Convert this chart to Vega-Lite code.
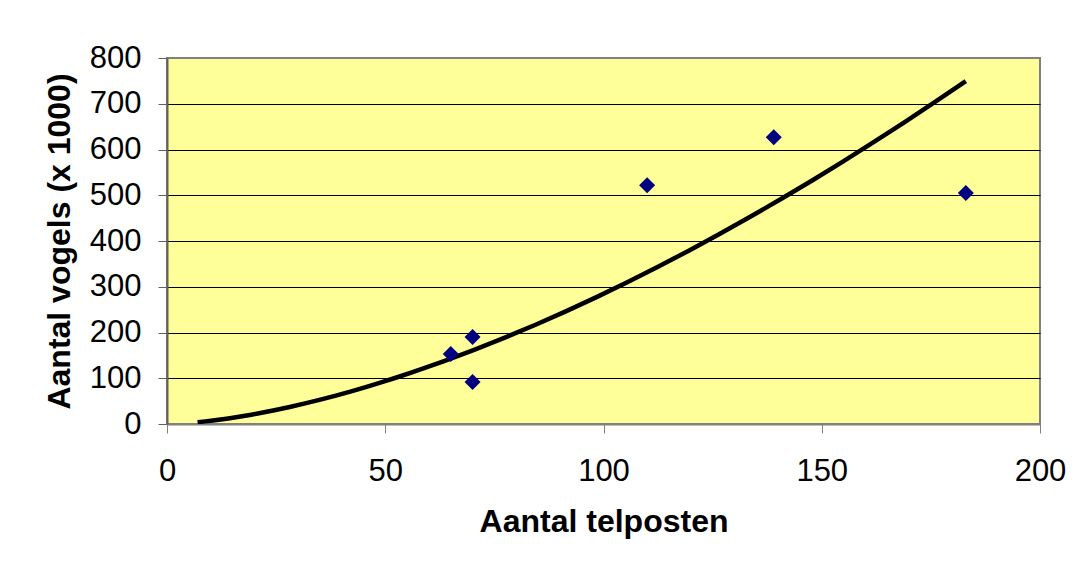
{
  "$schema": "https://vega.github.io/schema/vega-lite/v6.json",
  "width": 873,
  "height": 366,
  "autosize": {"type": "none"},
  "padding": {"left": 167, "top": 58, "right": 38, "bottom": 144},
  "background": "white",
  "config": {
    "font": "Liberation Sans",
    "view": {"fill": "#FFFF99", "stroke": "#808080", "strokeWidth": 2}
  },
  "data": {
    "values": [
      {"telposten": 65, "vogels": 153},
      {"telposten": 70, "vogels": 190},
      {"telposten": 70, "vogels": 92},
      {"telposten": 110, "vogels": 522},
      {"telposten": 139, "vogels": 627},
      {"telposten": 183, "vogels": 505}
    ]
  },
  "encoding": {
    "x": {
      "field": "telposten",
      "type": "quantitative",
      "scale": {"domain": [0, 200], "nice": false, "zero": true},
      "axis": {
        "title": "Aantal telposten",
        "values": [0, 50, 100, 150, 200],
        "grid": false,
        "tickSize": 9,
        "tickColor": "#808080",
        "domainColor": "#808080",
        "domainWidth": 2,
        "labelFontSize": 31,
        "labelColor": "black",
        "labelPadding": 23,
        "labelFlush": false,
        "labelOverlap": false,
        "titleFontSize": 32,
        "titleFontWeight": "bold",
        "titleColor": "black",
        "titlePadding": 20
      }
    },
    "y": {
      "field": "vogels",
      "type": "quantitative",
      "scale": {"domain": [0, 800], "nice": false},
      "axis": {
        "title": "Aantal vogels (x 1000)",
        "values": [0, 100, 200, 300, 400, 500, 600, 700, 800],
        "grid": true,
        "gridColor": {"condition": {"test": "datum.value === 800 || datum.value === 0", "value": "#808080"}, "value": "black"},
        "gridWidth": 1,
        "tickSize": 9,
        "tickColor": "#606060",
        "domainColor": "#606060",
        "domainWidth": 2,
        "labelFontSize": 31,
        "labelColor": "black",
        "labelPadding": 17,
        "labelFlush": false,
        "labelOverlap": false,
        "titleFontSize": 32,
        "titleFontWeight": "bold",
        "titleColor": "black",
        "titlePadding": 13
      }
    }
  },
  "layer": [
    {
      "transform": [
        {"regression": "vogels", "on": "telposten", "method": "pow", "extent": [7, 183]}
      ],
      "mark": {"type": "line", "color": "black", "strokeWidth": 4.5, "clip": true}
    },
    {
      "mark": {"type": "point", "shape": "diamond", "filled": true, "color": "#000080", "size": 256, "opacity": 1}
    }
  ]
}
